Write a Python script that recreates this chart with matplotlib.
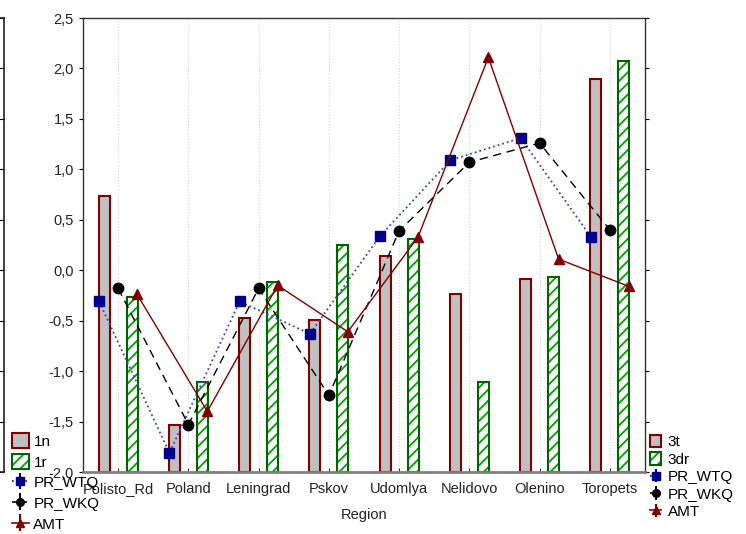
import matplotlib
matplotlib.use("Agg")
import matplotlib.pyplot as plt
import numpy as np
from matplotlib.ticker import FuncFormatter
from matplotlib.legend_handler import HandlerErrorbar

plt.rcParams['font.family'] = ['Liberation Sans', 'DejaVu Sans']
plt.rcParams['hatch.linewidth'] = 1.3

regions = ["Polisto_Rd", "Poland", "Leningrad", "Pskov", "Udomlya", "Nelidovo", "Olenino", "Toropets"]
bar_gray = [0.74, -1.53, -0.47, -0.49, 0.14, -0.24, -0.09, 1.90]
bar_green = [-0.27, -1.11, -0.12, 0.25, 0.31, -1.11, -0.07, 2.07]
pr_wtq = [-0.31, -1.81, -0.31, -0.63, 0.34, 1.09, 1.31, 0.33]
pr_wkq = [-0.18, -1.53, -0.18, -1.24, 0.39, 1.07, 1.26, 0.40]
amt = [-0.24, -1.40, -0.15, -0.61, 0.33, 2.11, 0.11, -0.16]
y_ticks = [-2.0, -1.5, -1.0, -0.5, 0.0, 0.5, 1.0, 1.5, 2.0, 2.5]
legend_left = ["1n", "1r", "PR_WTQ", "PR_WKQ", "AMT"]
legend_right = ["3t", "3dr", "PR_WTQ", "PR_WKQ", "AMT"]

W, H = 746, 534
fig = plt.figure(figsize=(W / 100, H / 100), dpi=100)
ax = fig.add_axes([83 / W, 1 - 472 / H, 562 / W, 454 / H])

ymin, ymax = -2.0, 2.5
x = np.arange(len(regions))
bw = 0.155
off_bar = 0.2
off_mk = 0.27

RED = '#800000'
GREEN = '#006400'
HGREEN = '#00a000'
NAVY = '#00008b'

b1 = ax.bar(x - off_bar, np.array(bar_gray) - ymin, bottom=ymin, width=bw,
            color='#c0c0c0', edgecolor=RED, linewidth=1.5, zorder=2)
b2 = ax.bar(x + off_bar, np.array(bar_green) - ymin, bottom=ymin, width=bw,
            color='white', edgecolor=GREEN, linewidth=1.5, hatch='///', zorder=2)
for p in b2:
    p._hatch_color = matplotlib.colors.to_rgba(HGREEN)

ax.plot(x - off_mk, pr_wtq, linestyle=':', color='#4040c0', linewidth=1.3,
        marker='s', markersize=7, markerfacecolor=NAVY, markeredgecolor=NAVY, zorder=3)
ax.plot(x, pr_wkq, linestyle=(0, (6, 4)), color='black', linewidth=1.0,
        marker='o', markersize=7.5, markerfacecolor='black', markeredgecolor='black', zorder=3)
ax.plot(x + off_mk, amt, linestyle='-', color=RED, linewidth=1.0,
        marker='^', markersize=7.5, markerfacecolor=RED, markeredgecolor=RED, zorder=3)

ax.set_xlim(-0.5, len(regions) - 0.5)
ax.set_ylim(ymin, ymax)
ax.set_xticks(x)
ax.set_xticklabels(regions, fontsize=10.5)
ax.set_yticks(y_ticks)
ax.yaxis.set_major_formatter(FuncFormatter(lambda v, p: f"{v:.1f}".replace('.', ',')))
ax.tick_params(axis='y', direction='out', length=3, labelsize=10.5, pad=3.5,
               right=True, labelright=False)
ax.tick_params(axis='x', direction='in', length=3, pad=7, colors='#333333', labelcolor='#222222')
for lab in ax.get_yticklabels():
    lab.set_color('#222222')
ax.grid(axis='x', color='#d8d8d8', linestyle=':', linewidth=0.8, zorder=0)
ax.set_axisbelow(True)
ax.set_xlabel("Region", fontsize=10.5, labelpad=9, color='#222222')

for s in ['top', 'right', 'left']:
    ax.spines[s].set_color('#333333')
    ax.spines[s].set_linewidth(1.0)
ax.spines['bottom'].set_color('#808080')
ax.spines['bottom'].set_linewidth(2.0)

# partial neighbouring panel frame at the far left
ax0 = fig.add_axes([-0.2, 1 - 472 / H, 0.2 + 3.5 / W, 454 / H])
ax0.set_ylim(ymin, ymax)
ax0.set_yticks(y_ticks)
ax0.set_xticks([])
ax0.yaxis.tick_right()
ax0.tick_params(axis='y', direction='in', length=4, labelright=False, labelleft=False)
ax0.patch.set_alpha(0)
for s in ax0.spines.values():
    s.set_color('#222222')
    s.set_linewidth(1.2)

# legend handles
h_wtq = ax.errorbar([], [], yerr=[], fmt='s:', color=NAVY, markersize=5.5, capsize=4, elinewidth=1.5, lw=1.2)
h_wkq = ax.errorbar([], [], yerr=[], fmt='o--', color='black', markersize=5.5, capsize=4, elinewidth=1.5, lw=1.2)
h_amt = ax.errorbar([], [], yerr=[], fmt='^-', color=RED, markersize=5.5, capsize=4, elinewidth=1.5, lw=1.2)

handles = [b1, b2, h_wtq, h_wkq, h_amt]
hmap = {h_wtq: HandlerErrorbar(xerr_size=0.5, yerr_size=0.55), h_wkq: HandlerErrorbar(xerr_size=0.5, yerr_size=0.55),
        h_amt: HandlerErrorbar(xerr_size=0.5, yerr_size=0.55)}
fig.legend(handles, legend_left, loc='upper left', bbox_to_anchor=(12 / W, 1 - 433 / H),
           frameon=False, fontsize=11, borderpad=0, borderaxespad=0, handler_map=hmap,
           handlelength=1.1, handleheight=1.15, handletextpad=0.3, labelspacing=0.33)
fig.legend(handles, legend_right, loc='upper left', bbox_to_anchor=(650 / W, 1 - 435 / H),
           frameon=False, fontsize=11, borderpad=0, borderaxespad=0,
           handler_map={h_wtq: HandlerErrorbar(xerr_size=0.4, yerr_size=0.45),
                        h_wkq: HandlerErrorbar(xerr_size=0.4, yerr_size=0.45),
                        h_amt: HandlerErrorbar(xerr_size=0.4, yerr_size=0.45)},
           handlelength=0.75, handleheight=0.85, handletextpad=0.4, labelspacing=0.2)

fig.savefig("out.png", dpi=100)
